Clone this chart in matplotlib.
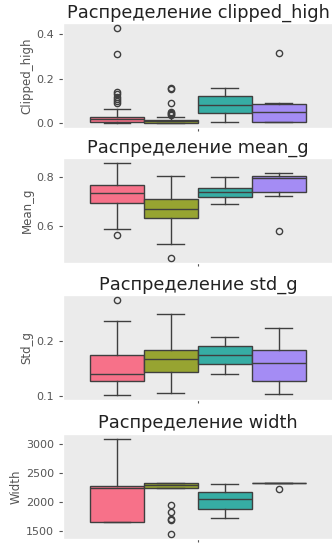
import matplotlib
matplotlib.use('Agg')
import matplotlib.pyplot as plt
import numpy as np

plt.style.use('ggplot')

# %% data

features = ['clipped_high', 'mean_g', 'std_g', 'width']
ylabels = ['Clipped_high', 'Mean_g', 'Std_g', 'Width']
colors = ['#f77189', '#97a431', '#36ada4', '#a48cf4']

# per feature: one entry per group (whislo, q1, med, q3, whishi)
clipped_whislo = [0.0, 0.0, 0.005, 0.005]
clipped_q1 = [0.005, 0.002, 0.045, 0.005]
clipped_med = [0.018, 0.008, 0.084, 0.05]
clipped_q3 = [0.03, 0.015, 0.124, 0.087]
clipped_whishi = [0.066, 0.03, 0.161, 0.09]
clipped_fliers = [[0.43, 0.31, 0.14, 0.13, 0.12, 0.11, 0.10, 0.09],
                  [0.16, 0.155, 0.09, 0.05, 0.045, 0.04, 0.035],
                  [],
                  [0.318]]

mean_whislo = [0.585, 0.524, 0.689, 0.721]
mean_q1 = [0.693, 0.630, 0.718, 0.739]
mean_med = [0.736, 0.668, 0.740, 0.796]
mean_q3 = [0.770, 0.712, 0.755, 0.807]
mean_whishi = [0.861, 0.807, 0.800, 0.818]
mean_fliers = [[0.559], [0.464], [], [0.576]]

std_whislo = [0.102, 0.106, 0.140, 0.104]
std_q1 = [0.128, 0.144, 0.158, 0.128]
std_med = [0.141, 0.168, 0.176, 0.161]
std_q3 = [0.175, 0.185, 0.191, 0.184]
std_whishi = [0.237, 0.250, 0.209, 0.225]
std_fliers = [[0.276], [], [], []]

width_whislo = [1648, 2233, 1727, 2318]
width_q1 = [1648, 2233, 1875, 2318]
width_med = [2233, 2290, 2040, 2318]
width_q3 = [2273, 2318, 2170, 2318]
width_whishi = [3085, 2318, 2312, 2318]
width_fliers = [[], [1950, 1820, 1700, 1680, 1440], [], [2216]]

yticks = [[0.0, 0.2, 0.4], [0.6, 0.8], [0.1, 0.2], [1500, 2000, 2500, 3000]]

all_stats = [
    (clipped_whislo, clipped_q1, clipped_med, clipped_q3, clipped_whishi, clipped_fliers),
    (mean_whislo, mean_q1, mean_med, mean_q3, mean_whishi, mean_fliers),
    (std_whislo, std_q1, std_med, std_q3, std_whishi, std_fliers),
    (width_whislo, width_q1, width_med, width_q3, width_whishi, width_fliers),
]

# %% plotting

fig = plt.figure(figsize=(3.32, 5.49), dpi=100)
fig.patch.set_facecolor('white')

bottoms = [0.7668, 0.5209, 0.2714, 0.0182]
positions = [-0.3, -0.1, 0.1, 0.3]
edge = '#3f3f3f'

for i, feat in enumerate(features):
    ax = fig.add_axes([0.1898, bottoms[i], 0.813, 0.1913])
    ax.set_facecolor('#ebebeb')
    ax.grid(False)
    wl, q1, med, q3, wh, fl = all_stats[i]
    stats = []
    for k in range(4):
        stats.append({'whislo': wl[k], 'q1': q1[k], 'med': med[k],
                      'q3': q3[k], 'whishi': wh[k], 'fliers': fl[k]})
    bp = ax.bxp(stats, positions=positions, widths=0.2, patch_artist=True,
                boxprops=dict(edgecolor=edge, linewidth=1.0),
                medianprops=dict(color=edge, linewidth=1.0),
                whiskerprops=dict(color=edge, linewidth=1.0),
                capprops=dict(color=edge, linewidth=1.0),
                flierprops=dict(marker='o', markerfacecolor='none',
                                markeredgecolor=edge, markersize=4.5,
                                markeredgewidth=1.0))
    for patch, c in zip(bp['boxes'], colors):
        patch.set_facecolor(c)
    for cap in bp['caps']:
        # seaborn-like caps: half the box width
        x = cap.get_xdata()
        mid = (x[0] + x[1]) / 2
        cap.set_xdata([mid - 0.05, mid + 0.05])

    ax.set_xlim(-0.5, 0.5)
    ax.set_xticks([0])
    ax.set_xticklabels([''])
    ax.set_yticks(yticks[i])
    ax.tick_params(axis='y', labelsize=8, colors='#555555', length=3)
    ax.tick_params(axis='x', length=2, colors='#555555')
    ax.set_ylabel(ylabels[i], fontsize=8.5, color='#555555', labelpad=2)
    ax.set_title('Распределение ' + feat, fontsize=12.8, color='#222222', pad=4)

fig.savefig('out.png', dpi=100)
